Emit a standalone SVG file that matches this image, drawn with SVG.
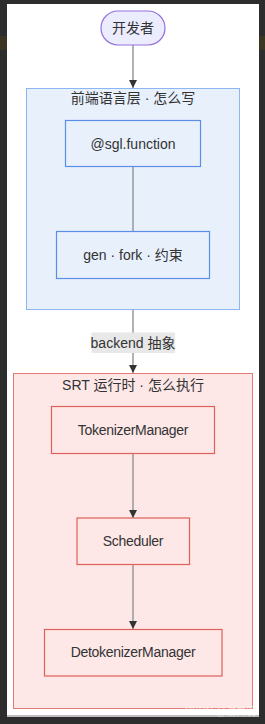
<svg xmlns="http://www.w3.org/2000/svg" width="265" height="724" viewBox="0 0 265 724">
<style>
text{font-family:"Liberation Sans","Noto Sans CJK SC",sans-serif;font-size:14px;fill:#333;text-anchor:middle}
.blueC{fill:#E8F0FC;stroke:#8DB6F5;stroke-width:1}
.blueN{fill:#E8F0FC;stroke:#5B8FE6;stroke-width:1.2}
.redC{fill:#FDE7E7;stroke:#E57A72;stroke-width:1}
.redN{fill:#FDE7E7;stroke:#E0605A;stroke-width:1.2}
.edge{stroke:#999;stroke-width:1.5;fill:none}
.lat{letter-spacing:-0.3px}
</style>
<defs>
<marker id="arr" viewBox="0 0 10 10" refX="10" refY="5" markerWidth="8" markerHeight="8" markerUnits="userSpaceOnUse" orient="auto">
<path d="M0,0 L10,5 L0,10 z" fill="#333"/>
</marker>
</defs>
<rect x="0" y="0" width="265" height="724" fill="#2d2d2d"/>
<rect x="0" y="36" width="7" height="14" fill="#3b3622"/>
<rect x="259" y="36" width="6" height="14" fill="#3b3622"/>
<rect x="7" y="715" width="252" height="2" fill="#bdbdbd"/>
<rect x="7" y="4" width="252" height="711" fill="#ffffff"/>

<g id="cluster-frontend">
<rect class="blueC" x="26.5" y="88.5" width="213" height="221"/>
<text x="133" y="103">前端语言层 · 怎么写</text>
</g>
<g id="cluster-srt">
<rect class="redC" x="13.5" y="373.5" width="239" height="335"/>
<text x="133" y="390">SRT 运行时 · 怎么执行</text>
</g>

<g id="connectors">
<line class="edge" x1="133" y1="45" x2="133" y2="88" marker-end="url(#arr)"/>
<line class="edge" x1="133" y1="167" x2="133" y2="231"/>
<line class="edge" x1="133" y1="310" x2="133" y2="373" marker-end="url(#arr)"/>
<rect x="91.5" y="332.5" width="83.5" height="20.5" fill="#e8e8e8"/>
<text x="133" y="347.5">backend 抽象</text>
<line class="edge" x1="133" y1="453.5" x2="133" y2="518" marker-end="url(#arr)"/>
<line class="edge" x1="133" y1="565" x2="133" y2="629" marker-end="url(#arr)"/>
</g>

<g id="node-dev">
<rect x="101" y="11" width="64" height="34" rx="17" ry="17" fill="#ECECFF" stroke="#9370DB" stroke-width="1.2"/>
<text x="133" y="33">开发者</text>
</g>
<g id="node-sgl">
<rect class="blueN" x="65.5" y="120.5" width="135" height="46"/>
<text x="133" y="148.5">@sgl.function</text>
</g>
<g id="node-gen">
<rect class="blueN" x="56.5" y="231.5" width="153" height="47"/>
<text x="133" y="260">gen · fork · 约束</text>
</g>
<g id="node-tok">
<rect class="redN" x="51.5" y="406.5" width="163" height="47"/>
<text class="lat" x="133" y="435">TokenizerManager</text>
</g>
<g id="node-sched">
<rect class="redN" x="77" y="518" width="112.5" height="46.5"/>
<text class="lat" x="133" y="546">Scheduler</text>
</g>
<g id="node-detok">
<rect class="redN" x="44.5" y="629.5" width="177.5" height="46.5"/>
<text class="lat" x="133" y="657">DetokenizerManager</text>
</g>
<text x="256" y="715" style="font-size:10px;fill:#ffffff;opacity:0.55;text-anchor:end">CSDN @谢白羽</text>
</svg>
